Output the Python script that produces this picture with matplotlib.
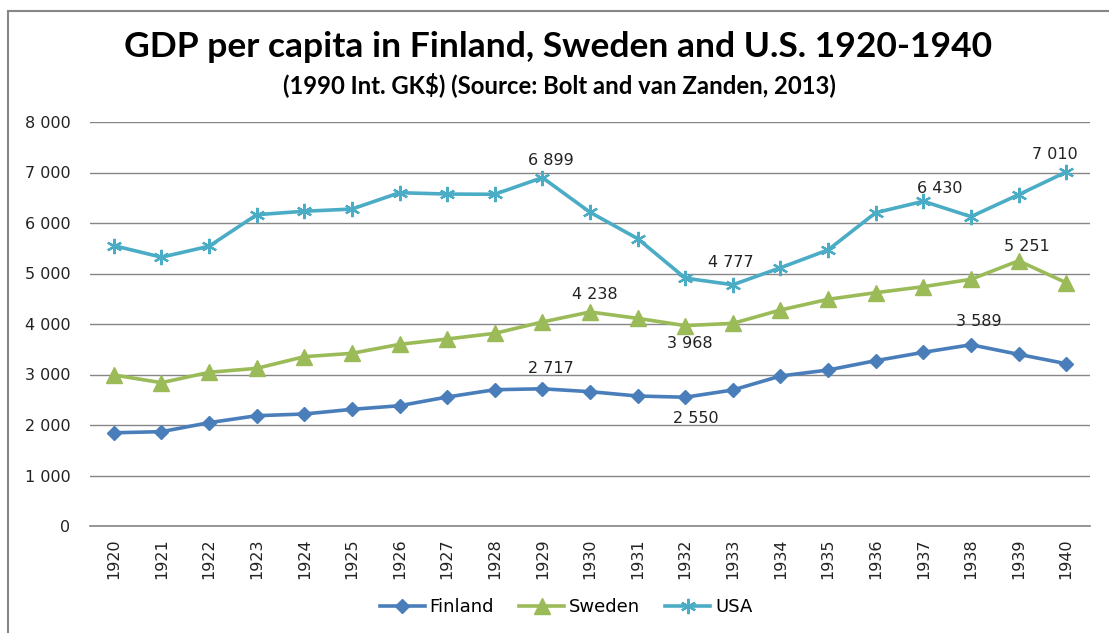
import matplotlib
matplotlib.use("Agg")
import matplotlib.pyplot as plt
from matplotlib.patches import Rectangle
from matplotlib.ticker import FuncFormatter

years = list(range(1920, 1941))
finland = [1846, 1868, 2046, 2184, 2218, 2310, 2382, 2554, 2699, 2717, 2660,
           2574, 2550, 2693, 2970, 3089, 3274, 3439, 3589, 3399, 3214]
sweden = [2990, 2838, 3043, 3122, 3353, 3419, 3597, 3703, 3815, 4040, 4238,
          4112, 3968, 4013, 4277, 4489, 4620, 4739, 4885, 5251, 4818]
usa = [5552, 5323, 5540, 6164, 6233, 6276, 6600, 6573, 6569, 6899, 6213,
       5691, 4908, 4777, 5114, 5467, 6204, 6430, 6126, 6561, 7010]

title = "GDP per capita in Finland, Sweden and U.S. 1920-1940"
subtitle = "(1990 Int. GK$) (Source: Bolt and van Zanden, 2013)"

# labelled points: (series, year, offset in pixels)
labels = [
    ("usa", 1929, (8, 17)), ("usa", 1933, (-2, 22)), ("usa", 1937, (16, 13)),
    ("usa", 1940, (-11, 17)),
    ("sweden", 1930, (5, 17)), ("sweden", 1932, (5, -18)), ("sweden", 1939, (8, 14)),
    ("finland", 1929, (8, 20)), ("finland", 1932, (11, -21)), ("finland", 1938, (8, 23)),
]

W, H = 1109, 633
fig = plt.figure(figsize=(W / 100, H / 100), dpi=100)
fig.patch.set_facecolor("white")
fig.patches.append(Rectangle((8 / W, 0 - 0.1), 1.2, (1 - 11 / H) + 0.1, transform=fig.transFigure,
                             fill=False, edgecolor="#868686", linewidth=1.5))

ax = fig.add_axes([90 / W, 1 - 526 / H, 1000 / W, 404 / H])

x = list(range(len(years)))
series = {
    "finland": (finland, "#4A7EBB", "D", 7.5, "Finland"),
    "sweden": (sweden, "#9BBB59", "^", 11, "Sweden"),
    "usa": (usa, "#4BACC6", (6, 2, 0), 11, "USA"),
}
for key in ["finland", "sweden", "usa"]:
    vals, col, mk, ms, name = series[key]
    ax.plot(x, vals, color=col, linewidth=2.6, marker=mk, markersize=ms,
            markerfacecolor=col, markeredgecolor=col, markeredgewidth=1.6 if key == "usa" else 1,
            label=name, zorder=3)

for key, yr, off in labels:
    vals = series[key][0]
    i = years.index(yr)
    v = vals[i]
    ax.annotate(f"{v:,}".replace(",", " "), (i, v), xytext=off, textcoords="offset pixels",
                ha="center", va="center", fontsize=11.5, color="#222222", zorder=4)

ax.set_xlim(-0.5, len(years) - 0.5)
ax.set_ylim(0, 8000)
ax.set_yticks(range(0, 8001, 1000))
ax.yaxis.set_major_formatter(FuncFormatter(lambda v, p: f"{int(v):,}".replace(",", " ")))
ax.set_xticks(x)
ax.set_xticklabels([str(y) for y in years], rotation=90)
ax.tick_params(axis="both", length=0, labelsize=11.5, colors="#222222")
ax.tick_params(axis="y", pad=14)
ax.tick_params(axis="x", pad=9)
ax.grid(axis="y", color="#868686", linewidth=1)
ax.set_axisbelow(True)
for s in ["left", "right", "top"]:
    ax.spines[s].set_visible(False)
ax.spines["bottom"].set_color("#868686")
ax.spines["bottom"].set_linewidth(1.2)

fig.text(558 / W, 1 - 47 / H, title, ha="center", va="center", fontsize=25.5,
         fontweight="bold", family=["Lato", "DejaVu Sans"], color="black")
fig.text(559 / W, 1 - 85 / H, subtitle, ha="center", va="center", fontsize=17.2,
         fontweight="bold", family=["Lato", "DejaVu Sans"], color="black")

fig.legend(loc="center", bbox_to_anchor=(566 / W, 1 - 607 / H), ncol=3, frameon=False,
           fontsize=13, handlelength=2.5, handletextpad=0.25, columnspacing=1.4)

fig.savefig("out.png", dpi=100)
